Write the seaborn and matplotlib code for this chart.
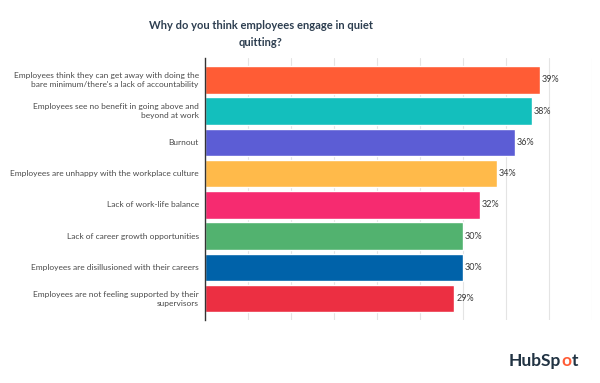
import matplotlib
matplotlib.use("Agg")
import matplotlib.pyplot as plt
import seaborn as sns
import pandas as pd

categories = [
    "Employees think they can get away with doing the\nbare minimum/there's a lack of accountability",
    "Employees see no benefit in going above and\nbeyond at work",
    "Burnout",
    "Employees are unhappy with the workplace culture",
    "Lack of work-life balance",
    "Lack of career growth opportunities",
    "Employees are disillusioned with their careers",
    "Employees are not feeling supported by their\nsupervisors",
]
values = [39, 38, 36, 34, 32, 30, 30, 29]
colors = ["#FF5C35", "#13BFBD", "#5C5DD5", "#FFBA4A", "#F62B70", "#52B26F", "#0062A9", "#EC2F42"]
title = "Why do you think employees engage in quiet\nquitting?"

df = pd.DataFrame({"category": categories, "value": values})

sns.set_theme(style="white")
plt.rcParams["font.family"] = ["Lato", "DejaVu Sans"]

fig = plt.figure(figsize=(6, 3.83), dpi=100)
ax = fig.add_axes([205/600, 1-320/383, (592-205)/600, (320-58)/383])

sns.barplot(data=df, y="category", x="value", hue="category", palette=colors,
            legend=False, orient="h", width=0.88, ax=ax, saturation=1)

ax.set_xlim(0, 45)
ax.set_ylim(7.68, -0.7)
ax.set_xticks(range(5, 46, 5))
ax.xaxis.grid(True, color="#e4e4e4", linewidth=0.8)
ax.set_axisbelow(True)
ax.tick_params(axis="x", length=0, labelbottom=False)
ax.tick_params(axis="y", length=0, labelleft=False)
ax.set_xlabel("")
ax.set_ylabel("")
for s in ["top", "right", "bottom"]:
    ax.spines[s].set_visible(False)
ax.spines["left"].set_color("#333333")
ax.spines["left"].set_linewidth(1.0)

for i, c in enumerate(categories):
    ax.annotate(c, xy=(0, i), xytext=(-4.5, 0), textcoords="offset points",
                ha="right", va="center", multialignment="right", linespacing=1.3,
                fontsize=6.0, color="#4a4a4a", annotation_clip=False)

for i, v in enumerate(values):
    ax.text(v + 0.2, i, f"{v}%", va="center", ha="left", fontsize=6.5, color="#3a3a3a")

fig.text(261/600, 1-34/383, title, ha="center", va="center", fontsize=8, fontweight="bold",
         color="#2d3e50", linespacing=1.6)

# HubSpot wordmark
fs = 12.5
y_logo = 1-361/383
t1 = fig.text(509/600, y_logo, "HubSp", ha="left", va="center", fontsize=fs,
              fontweight="bold", color="#213343")
fig.canvas.draw()
r = fig.canvas.get_renderer()
bb = t1.get_window_extent(r)
t2 = fig.text(bb.x1/600, y_logo, "o", ha="left", va="center", fontsize=fs,
              fontweight="bold", color="#FF5C35")
bb2 = t2.get_window_extent(r)
fig.text(bb2.x1/600, y_logo, "t", ha="left", va="center", fontsize=fs,
         fontweight="bold", color="#213343")

fig.savefig("out.png", dpi=100, facecolor="white")
